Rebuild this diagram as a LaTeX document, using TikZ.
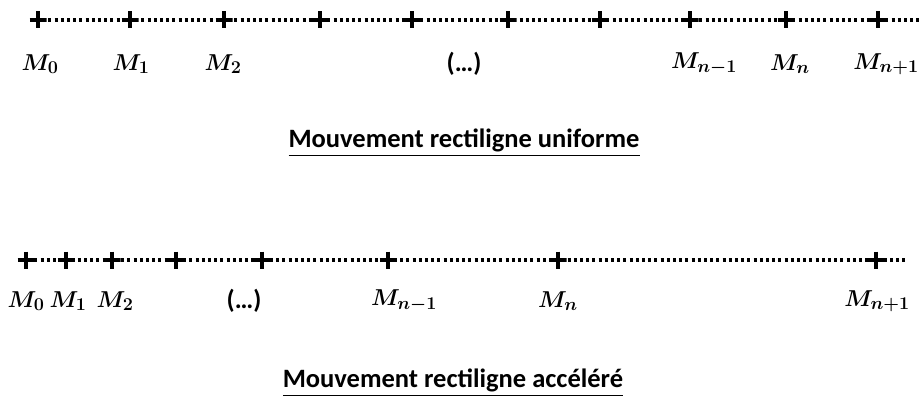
\RequirePackage{fix-cm}
\documentclass[tikz,border=0pt]{standalone}
\usepackage{fontspec}
\setsansfont{Carlito}
\usepackage{amsmath}
\DeclareMathSizes{23}{23}{18}{14}
\tikzset{
  cross/.style={minimum size=17pt, inner sep=0pt, path picture={
      \draw[line width=3.4pt] (path picture bounding box.west) -- (path picture bounding box.east);
      \draw[line width=3.4pt] (path picture bounding box.north) -- (path picture bounding box.south);}},
  axisline/.style={line width=3.2pt, dash pattern=on 3pt off 3.2pt},
  lbl/.style={font=\fontsize{23}{27}\selectfont\boldmath, inner sep=0pt},
  dots/.style={font=\sffamily\bfseries\fontsize{26}{30}\selectfont, inner sep=0pt},
  ttl/.style={font=\sffamily\bfseries\fontsize{26.5}{30}\selectfont, inner sep=0pt}
}
\begin{document}
\begin{tikzpicture}[x=1pt,y=-1pt]
\useasboundingbox (0,0) rectangle (923,396);
% top line
\coordinate (ta) at (36,20);
\coordinate (tb) at (920,20);
\draw[axisline] (ta) -- (tb);
\foreach \x [count=\i] in {38,130,224,320,412,508,600,690,786,878}
  \node[cross] (t\i) at (\x,20) {};
\node[lbl] (tl0) at (40,64) {$M_0$};
\node[lbl] (tl1) at (131,64) {$M_1$};
\node[lbl] (tl2) at (223,64) {$M_2$};
\node[dots] (tld) at (464,64) {(…)};
\node[lbl] (tl3) at (704,64) {$M_{n-1}$};
\node[lbl] (tl4) at (790,64) {$M_n$};
\node[lbl] (tl5) at (886,64) {$M_{n+1}$};
\node[ttl] (title1) at (464,143) {\underline{Mouvement rectiligne uniforme}};
% bottom line
\coordinate (ba) at (22,260);
\coordinate (bb) at (908,260);
\draw[axisline] (ba) -- (bb);
\foreach \x [count=\i] in {26,66,112,176,262,388,558,876}
  \node[cross] (b\i) at (\x,260) {};
\node[lbl] (bl0) at (26,301) {$M_0$};
\node[lbl] (bl1) at (68,301) {$M_1$};
\node[lbl] (bl2) at (115,301) {$M_2$};
\node[dots] (bld) at (244,301) {(…)};
\node[lbl] (bl3) at (404,301) {$M_{n-1}$};
\node[lbl] (bl4) at (558,301) {$M_n$};
\node[lbl] (bl5) at (877,301) {$M_{n+1}$};
\node[ttl] (title2) at (453,383) {\underline{Mouvement rectiligne accéléré}};
\end{tikzpicture}
\end{document}
